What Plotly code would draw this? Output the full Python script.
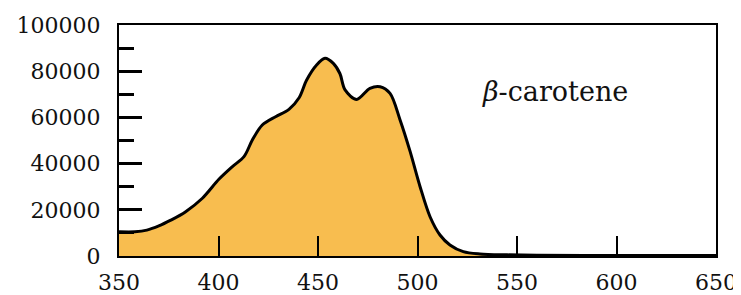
import plotly.graph_objects as go

wavelength = [350, 358, 364, 370, 376, 383.5, 391.9, 400.3, 407, 412.8, 417, 422, 428.7, 435.4, 440.5, 444.3, 449.3, 453.5, 457.7, 461, 463.6, 469.4, 476.1, 481.2, 486.2, 491.2, 496.2, 501.3, 506.3, 511.3, 516.3, 523, 531.4, 545, 560, 600, 650]
absorbance = [10500, 10500, 11200, 13000, 15500, 19200, 25000, 33300, 38700, 43000, 50200, 56700, 60300, 63500, 68500, 76200, 82700, 85600, 83400, 79000, 71900, 67800, 72600, 73300, 70400, 59000, 45500, 30000, 17000, 9100, 4800, 1900, 900, 500, 300, 200, 200]

x_ticks = [350, 400, 450, 500, 550, 600, 650]
y_ticks = [0, 20000, 40000, 60000, 80000, 100000]
label = "<i>β</i>-carotene"

serif = "DejaVu Serif"

fig = go.Figure()
fig.add_trace(go.Scatter(
    x=wavelength, y=absorbance, mode="lines", fill="tozeroy",
    fillcolor="#F8BD4F", line=dict(color="black", width=3, shape="spline", smoothing=0.9),
    hoverinfo="skip", showlegend=False))

fig.update_layout(
    width=733, height=287,
    margin=dict(l=111, r=25, t=17, b=39),
    paper_bgcolor="white", plot_bgcolor="white",
    font=dict(family=serif, size=22, color="#111"),
    showlegend=False,
)
fig.update_xaxes(
    range=[350, 650], tickvals=x_ticks, ticktext=[str(v) for v in x_ticks],
    ticks="inside", ticklen=20, tickwidth=1.5, tickcolor="black",
    showline=True, linecolor="black", linewidth=2, mirror=True,
    showgrid=False, zeroline=False, ticklabelstandoff=6, automargin=False,
    tickfont=dict(family=serif, size=22, color="#111"),
)
fig.update_yaxes(
    range=[0, 100000], tickvals=y_ticks, ticktext=[str(v) for v in y_ticks],
    ticks="inside", ticklen=23, tickwidth=2.5, tickcolor="black",
    minor=dict(dtick=10000, ticks="inside", ticklen=15, tickwidth=2.5, tickcolor="black"),
    showline=True, linecolor="black", linewidth=2, mirror=True,
    showgrid=False, zeroline=False, ticklabelstandoff=12, automargin=False,
    tickfont=dict(family=serif, size=22, color="#111"),
)
fig.add_annotation(x=569, y=71000, xref="x", yref="y", text=label, showarrow=False,
                   font=dict(family=serif, size=27, color="#111"))

fig.write_html("out.html")
